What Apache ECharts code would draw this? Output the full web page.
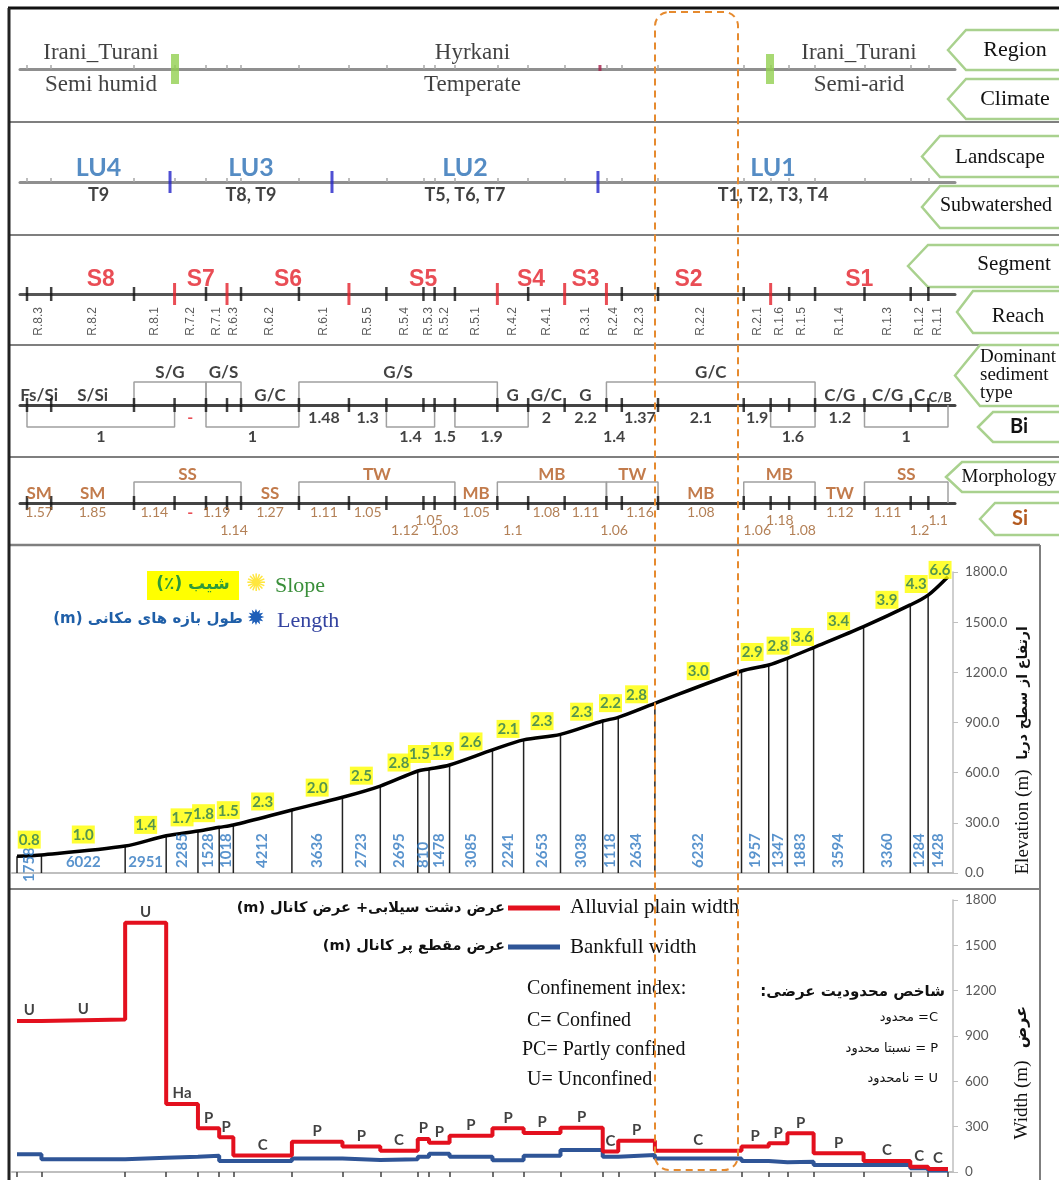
<!DOCTYPE html>
<html><head><meta charset="utf-8">
<script src="https://cdn.jsdelivr.net/npm/echarts@6/dist/echarts.min.js"></script>
<style>html,body{margin:0;padding:0;background:#fff}#c{width:1059px;height:1180px}</style>
</head><body><div id="c"></div>
<script>
// ---------------- DATA ----------------
const reachNames = ['R.8.3','R.8.2','R.8.1','R.7.2','R.7.1','R.6.3','R.6.2','R.6.1','R.5.5','R.5.4','R.5.3','R.5.2','R.5.1','R.4.2','R.4.1','R.3.1','R.2.4','R.2.3','R.2.2','R.2.1','R.1.6','R.1.5','R.1.4','R.1.3','R.1.2','R.1.1'];
const reachLengths = [1758,6022,2951,2285,1528,1018,4212,3636,2723,2695,810,1478,3085,2241,2653,3038,1118,2634,6232,1957,1347,1883,3594,3360,1284,1428];
const slopes = [0.8,1.0,1.4,1.7,1.8,1.5,2.3,2.0,2.5,2.8,1.5,1.9,2.6,2.1,2.3,2.3,2.2,2.8,3.0,2.9,2.8,3.6,3.4,3.9,4.3,6.6];
const elevations = [100,108,161,223,251,273,287,377,453,520,610,622,646,736,796,829,909,931,1015,1208,1244,1284,1348,1473,1603,1662,1772];
const alluvialWidth = [1000,1010,1650,450,290,230,110,200,168,141,218,194,240,289,258,293,135,207,140,168,190,256,124,73,35,20];
const bankfullWidth = [117,84,95,101,108,73,73,90,80,84,101,121,101,77,108,146,101,112,90,73,64,68,46,46,24,10];
const confinement = ['U','U','U','Ha','P','P','C','P','P','C','P','P','P','P','P','P','C','P','C','P','P','P','P','C','C','C'];

const regionNames = ['Irani_Turani','Hyrkani','Irani_Turani'];
const climateNames = ['Semi humid','Temperate','Semi-arid'];
const regionBounds = [0,10760,54025,66970];
const climateMarks = [41663];

const landscapeUnits = ['LU4','LU3','LU2','LU1'];
const subwatersheds = ['T9','T8, T9','T5, T6, T7','T1, T2, T3, T4'];
const landscapeBounds = [0,10400,22177,41518,66970];

const sedimentTypes = ['Fs/Si','S/Si','S/G','G/S','G/C','G/S','G','G/C','G','G/C','C/G','C/G','C','C/B'];
const sedimentSpans = [[0,0],[1,1],[2,3],[4,5],[6,6],[7,12],[13,13],[14,14],[15,15],[16,21],[22,22],[23,23],[24,24],[25,25]];
const biValues = ['1','-','1','1.48','1.3','1.4','1.5','1.9','2','2.2','1.4','1.37','2.1','1.9','1.6','1.2','1'];
const biSpans = [[0,2],[3,3],[4,6],[7,7],[8,8],[9,10],[11,11],[12,13],[14,14],[15,15],[16,16],[17,17],[18,18],[19,19],[20,21],[22,22],[23,25]];
const morphTypes = ['SM','SM','SS','SS','TW','MB','MB','TW','MB','MB','TW','SS'];
const morphSpans = [[0,0],[1,1],[2,5],[6,6],[7,11],[12,12],[13,15],[16,17],[18,18],[19,21],[22,22],[23,25]];
const siValues = ['1.57','1.85','1.14','-','1.19','1.14','1.27','1.11','1.05','1.12','1.05','1.03','1.05','1.1','1.08','1.11','1.06','1.16','1.08','1.06','1.18','1.08','1.12','1.11','1.2','1.1'];

// ---------------- LAYOUT (not data) ----------------
const biLowSingles = [6,10];
const siTier = [0,0,0,0,0,2,0,0,0,2,1,2,0,2,0,0,2,0,0,2,1,2,0,0,2,1];
const lengthHorizontal = [1,2];
const lengthDrop = {0:14};
const smallSediment = [13];
const slopeNudge = {4:-5,5:2,10:-4,11:3,19:-3,21:2,24:-3,25:2};

// ---------------- BUILD ----------------
const cum=[0]; reachLengths.forEach(l=>cum.push(cum[cum.length-1]+l));
const mid = i => (cum[i]+cum[i+1])/2;
const spanMid = s => (cum[s[0]]+cum[s[1]+1])/2;

const SERIF='"Liberation Serif", "Times New Roman", serif';
const SANS='Lato, "Noto Sans", sans-serif';
const ARIAL='"Liberation Sans", Arial, sans-serif';
const FA='"DejaVu Sans", sans-serif';
const RED='#e3202a';

const TOP_MIN=-509, TOP_MAX=67479, BOT_MIN=-360, BOT_MAX=67330;
const rowY=[69,182,294,405,503];
const rowLine=[{c:'#8f8f8f',w:3},{c:'#8f8f8f',w:3},{c:'#555',w:3},{c:'#444',w:3},{c:'#444',w:3}];

const grid=[],xAxis=[],yAxis=[],series=[];
rowY.forEach((y,i)=>{
  grid.push({left:20,width:935,top:y-50,height:100});
  xAxis.push({type:'value',gridIndex:i,min:TOP_MIN,max:TOP_MAX,
    axisLine:{onZero:true,lineStyle:{color:rowLine[i].c,width:rowLine[i].w}},
    axisTick: i<2?{show:true,inside:true,length:4,lineStyle:{color:'#a8a8a8',width:1.5},customValues:cum.slice(0,26)}:{show:false},
    axisLabel:{show:false},splitLine:{show:false}});
  yAxis.push({type:'value',gridIndex:i,min:-50,max:50,show:false});
});
grid.push({left:12,width:941,top:572,height:301});
xAxis.push({type:'value',gridIndex:5,min:BOT_MIN,max:BOT_MAX,axisLine:{show:true,onZero:false,lineStyle:{color:'#bfbfbf',width:2}},axisTick:{show:false},axisLabel:{show:false},splitLine:{show:false}});
yAxis.push({type:'value',gridIndex:5,position:'right',min:0,max:1800,interval:300,
  axisLine:{show:true,onZero:false,lineStyle:{color:'#bfbfbf',width:1.5}},axisTick:{show:true,length:5,lineStyle:{color:'#bfbfbf'}},
  axisLabel:{color:'#595959',fontSize:13.5,fontFamily:SANS,margin:12,formatter:v=>Number(v).toFixed(1)},splitLine:{show:false}});
grid.push({left:12,width:941,top:900,height:272});
xAxis.push({type:'value',gridIndex:6,min:BOT_MIN,max:BOT_MAX,axisLine:{show:true,onZero:false,lineStyle:{color:'#bfbfbf',width:2}},
  axisTick:{show:true,length:5,lineStyle:{color:'#404040',width:1.5},customValues:cum},axisLabel:{show:false},splitLine:{show:false}});
yAxis.push({type:'value',gridIndex:6,position:'right',min:0,max:1800,interval:300,
  axisLine:{show:true,onZero:false,lineStyle:{color:'#bfbfbf',width:1.5}},axisTick:{show:true,length:5,lineStyle:{color:'#bfbfbf'}},
  axisLabel:{color:'#595959',fontSize:13.5,fontFamily:SANS,margin:12,formatter:v=>String(Math.round(v))},splitLine:{show:false}});

function marks(gi,pts,size,color,z){series.push({type:'scatter',xAxisIndex:gi,yAxisIndex:gi,symbol:'rect',symbolSize:size,itemStyle:{color},data:pts,silent:true,z:z||4});}
function texts(gi,pts,txt,label,z){series.push({type:'scatter',xAxisIndex:gi,yAxisIndex:gi,symbolSize:0,silent:true,z:z||6,data:pts,
  label:Object.assign({show:true,formatter:p=>txt[p.dataIndex]==='-'?'{r|-}':txt[p.dataIndex],rich:{r:{color:RED,fontWeight:'bold',fontSize:16}}},label)});}
function brackets(gi,spans,h,color){spans.forEach(s=>{if(s[0]===s[1])return;const x0=cum[s[0]],x1=cum[s[1]+1];
  series.push({type:'line',xAxisIndex:gi,yAxisIndex:gi,symbol:'none',silent:true,data:[[x0,0],[x0,h],[x1,h],[x1,0]],lineStyle:{color,width:1.5},z:3});});}

marks(0,regionBounds.slice(1,-1).map(x=>[x,0]),[8,30],'#92d050',5);
marks(0,climateMarks.map(x=>[x,1]),[3,6],'#a3214a',5);
const regionCenters=regionNames.map((n,i)=>[(regionBounds[i]+regionBounds[i+1])/2,0]);
texts(0,regionCenters,regionNames,{position:'top',distance:5,fontFamily:SERIF,fontSize:23,color:'#111'});
texts(0,regionCenters,climateNames,{position:'bottom',distance:4,fontFamily:SERIF,fontSize:23,color:'#111'});

marks(1,landscapeBounds.slice(1,-1).map(x=>[x,0]),[3,22],'#2323c8',5);
const luCenters=landscapeUnits.map((n,i)=>[(landscapeBounds[i]+landscapeBounds[i+1])/2,0]);
texts(1,luCenters,landscapeUnits,{position:'top',distance:2,fontFamily:SANS,fontWeight:'bold',fontSize:25,color:'#2a6fb5'});
texts(1,luCenters,subwatersheds,{position:'bottom',distance:4,fontFamily:SANS,fontWeight:'bold',fontSize:18,color:'#111'});

const segOf=i=>'S'+reachNames[i].split('.')[1];
const segBound=[];for(let i=1;i<26;i++){if(segOf(i)!==segOf(i-1))segBound.push(i);}
marks(2,cum.slice(0,26).map((c,i)=>segBound.includes(i)?null:[c,0]).filter(Boolean),[2.5,14],'#111',4);
marks(2,segBound.map(i=>[cum[i],0]),[3,22],RED,5);
const segNames=[],segPts=[];
reachNames.forEach((r,i)=>{const s=segOf(i);if(!segNames.includes(s)){segNames.push(s);segPts.push([i,i]);}else segPts[segPts.length-1][1]=i;});
texts(2,segPts.map(s=>[spanMid(s),0]),segNames,{position:'top',distance:3,fontFamily:ARIAL,fontWeight:'bold',fontSize:23,color:RED});
texts(2,reachNames.map((r,i)=>[mid(i),0]),reachNames,{position:'bottom',distance:13,rotate:90,align:'right',verticalAlign:'middle',fontFamily:ARIAL,fontSize:12,color:'#333'});

marks(3,cum.slice(0,26).map(c=>[c,0]),[2.5,14],'#111',4);
brackets(3,sedimentSpans,23,'#a0a0a0');
brackets(3,biSpans,-22,'#a0a0a0');
const sedSingle=[],sedSingleT=[],sedGroup=[],sedGroupT=[];
sedimentSpans.forEach((s,i)=>{if(s[0]===s[1]){sedSingle.push(smallSediment.includes(i)?{value:[spanMid(s),0],label:{fontSize:13,offset:[2,0]}}:[spanMid(s),0]);sedSingleT.push(sedimentTypes[i]);}else{sedGroup.push([spanMid(s),23]);sedGroupT.push(sedimentTypes[i]);}});
const SEDL={fontFamily:SANS,fontWeight:'bold',fontSize:17,color:'#111'};
texts(3,sedSingle,sedSingleT,Object.assign({position:'top',distance:1},SEDL));
texts(3,sedGroup,sedGroupT,Object.assign({position:'top',distance:1},SEDL));
const biHi=[],biHiT=[],biLo=[],biLoT=[],biGr=[],biGrT=[];
biSpans.forEach((s,i)=>{if(s[0]!==s[1]){biGr.push([spanMid(s),-22]);biGrT.push(biValues[i]);}
  else if(biLowSingles.includes(i)){biLo.push([spanMid(s),0]);biLoT.push(biValues[i]);}
  else{biHi.push([spanMid(s),0]);biHiT.push(biValues[i]);}});
const BIL={fontFamily:SANS,fontWeight:'bold',fontSize:16,color:'#111'};
texts(3,biHi,biHiT,Object.assign({position:'bottom',distance:5},BIL));
texts(3,biLo,biLoT,Object.assign({position:'bottom',distance:24},BIL));
texts(3,biGr,biGrT,Object.assign({position:'bottom',distance:2},BIL));

marks(4,cum.slice(0,26).map(c=>[c,0]),[2.5,14],'#111',4);
brackets(4,morphSpans,21,'#a0a0a0');
const mSingle=[],mSingleT=[],mGroup=[],mGroupT=[];
morphSpans.forEach((s,i)=>{if(s[0]===s[1]){mSingle.push([spanMid(s),0]);mSingleT.push(morphTypes[i]);}else{mGroup.push([spanMid(s),21]);mGroupT.push(morphTypes[i]);}});
const ML={fontFamily:SANS,fontWeight:'bold',fontSize:17,color:'#b35a1f'};
texts(4,mSingle,mSingleT,Object.assign({position:'top',distance:1},ML));
texts(4,mGroup,mGroupT,Object.assign({position:'top',distance:-1},ML));
[0,1,2].forEach(t=>{
  const idx=siValues.map((v,i)=>i).filter(i=>siTier[i]===t);
  texts(4,idx.map(i=>[mid(i),0]),idx.map(i=>siValues[i]),{position:'bottom',distance:[2,10,20][t],fontFamily:SANS,fontSize:14,color:'#a0602c'});
});

series.push({type:'bar',xAxisIndex:5,yAxisIndex:5,barWidth:1.5,silent:true,itemStyle:{color:'#222'},data:cum.slice(0,26).map((c,i)=>[c,elevations[i]]),z:2});
series.push({type:'line',xAxisIndex:5,yAxisIndex:5,symbol:'none',smooth:0.3,silent:true,lineStyle:{color:'#000',width:3.5},data:cum.map((c,i)=>[c,elevations[i]]),z:5});
texts(5,slopes.map((s,i)=>{const v=[mid(i),(elevations[i]+elevations[i+1])/2];return slopeNudge[i]!==undefined?{value:v,label:{offset:[slopeNudge[i],0]}}:v;}),slopes.map(s=>s.toFixed(1)),
  {position:'top',distance:7,fontFamily:SANS,fontWeight:'bold',fontSize:15,color:'#2a7a55',backgroundColor:'#ffff00',padding:[2,1,1,1]},8);
const lenRot=reachLengths.map((l,i)=>i).filter(i=>!lengthHorizontal.includes(i));
texts(5,lenRot.map(i=>lengthDrop[i]?{value:[mid(i),0],label:{offset:[-lengthDrop[i],0]}}:[mid(i),0]),lenRot.map(i=>String(reachLengths[i])),{position:'top',distance:5,rotate:90,align:'left',verticalAlign:'middle',fontFamily:SANS,fontWeight:'bold',fontSize:15,color:'#2f78c0'},7);
texts(5,lengthHorizontal.map(i=>[mid(i),0]),lengthHorizontal.map(i=>String(reachLengths[i])),{position:'top',distance:3,fontFamily:SANS,fontWeight:'bold',fontSize:15,color:'#2f78c0'});

const stepData=arr=>cum.slice(0,26).map((c,i)=>[c,arr[i]]).concat([[cum[26],arr[25]]]);
series.push({type:'line',xAxisIndex:6,yAxisIndex:6,step:'end',symbol:'none',silent:true,data:stepData(bankfullWidth),lineStyle:{color:'#2f5597',width:4},z:4});
series.push({type:'line',xAxisIndex:6,yAxisIndex:6,step:'end',symbol:'none',silent:true,data:stepData(alluvialWidth),lineStyle:{color:'#e3101e',width:4},z:5});
texts(6,alluvialWidth.map((w,i)=>[mid(i),w]),confinement,{position:'top',distance:3,fontFamily:SANS,fontWeight:'bold',fontSize:15,color:'#111'});

const G=[];
function gLine(x1,y1,x2,y2,stroke,w){G.push({type:'line',silent:true,shape:{x1,y1,x2,y2},style:{stroke,lineWidth:w}});}
function gText(x,y,text,font,fill,align,rot){G.push({type:'text',silent:true,x,y,rotation:rot||0,style:{text,font,fill,textAlign:align||'left',align:align||'left',textVerticalAlign:'middle',verticalAlign:'middle'}});}
[122,235,345,457].forEach(y=>gLine(8,y,1059,y,'#7f7f7f',2));
gLine(8,545,1040,545,'#7f7f7f',2.5);
gLine(8,889,1040,889,'#7f7f7f',2);
gLine(1040,545,1040,1180,'#7f7f7f',2);
gLine(8,8,1059,8,'#111',3);
gLine(9,8,9,1180,'#222',3);
function box(tip,top,bot,body){G.push({type:'polygon',silent:true,shape:{points:[[tip,(top+bot)/2],[body,top],[1070,top],[1070,bot],[body,bot]]},style:{fill:'#fff',stroke:'#a9d18e',lineWidth:2.5}});}
box(948,30,70,966); gText(1015,50,'Region','22px '+SERIF,'#111','center');
box(948,79,119,966); gText(1015,99,'Climate','22px '+SERIF,'#111','center');
box(922,136,177,940); gText(1000,157,'Landscape','21px '+SERIF,'#111','center');
box(922,186,228,940); gText(996,206,'Subwatershed','20px '+SERIF,'#111','center');
box(908,245,287,928); gText(1014,264,'Segment','21px '+SERIF,'#111','center');
box(957,291,333,973); gText(1018,316,'Reach','21px '+SERIF,'#111','center');
box(955,345,406,980); gText(980,357,'Dominant','19px '+SERIF,'#111'); gText(980,375,'sediment','19px '+SERIF,'#111'); gText(980,393,'type','19px '+SERIF,'#111');
box(978,412,442,993); gText(1019,427,'Bi','bold 20px '+SANS,'#111','center');
box(946,462,492,962); gText(1009,477,'Morphology','19px '+SERIF,'#111','center');
box(980,503,535,995); gText(1020,519,'Si','bold 20px '+SANS,'#b35a1f','center');
G.push({type:'rect',silent:true,shape:{x:147,y:571,width:92,height:29},style:{fill:'#ffff00'}});
gText(193,585,'(٪) شیب','bold 17px '+FA,'#2e9a3a','center');
gText(256,585,'✺','24px "DejaVu Sans"','#ffe63d','center');
gText(275,586,'Slope','22px '+SERIF,'#3a8f3a');
gText(243,619,'(m) طول بازه های مکانی','bold 15px '+FA,'#1f5fa8','right');
gText(256,619,'✹','22px "DejaVu Sans"','#1f5fb8','center');
gText(277,621,'Length','22px '+SERIF,'#3343a0');
gText(1023,822,'Elevation (m)','19px '+SERIF,'#111','center',Math.PI/2);
gText(1023,693,'ارتفاع از سطح دریا','bold 14px '+FA,'#111','center',Math.PI/2);
gText(1022,1100,'Width (m)','19px '+SERIF,'#111','center',Math.PI/2);
gText(1022,1027,'عرض','bold 16px '+FA,'#111','center',Math.PI/2);
gLine(508,908,560,908,'#e3101e',5);
gLine(508,947,560,947,'#2f5597',5);
gText(505,908,'(m) عرض دشت سیلابی+ عرض کانال','bold 14.5px '+FA,'#111','right');
gText(505,946,'(m) عرض مقطع پر کانال','bold 14.5px '+FA,'#111','right');
gText(570,907,'Alluvial plain width','21px '+SERIF,'#111');
gText(570,947,'Bankfull width','21px '+SERIF,'#111');
gText(527,989,'Confinement index:','20px '+SERIF,'#111');
gText(527,1021,'C= Confined','20px '+SERIF,'#111');
gText(522,1050,'PC= Partly confined','20px '+SERIF,'#111');
gText(527,1080,'U= Unconfined','20px '+SERIF,'#111');
gText(945,992,':شاخص محدودیت عرضی','bold 15px '+FA,'#111','right');
gText(938,1018,'محدود =C','13px '+FA,'#111','right');
gText(938,1049,'نسبتا محدود = P','13px '+FA,'#111','right');
gText(938,1079,'نامحدود = U','13px '+FA,'#111','right');
G.push({type:'rect',silent:true,z:100,shape:{x:655,y:12,width:83,height:1158,r:14},style:{fill:'none',stroke:'#e68a2e',lineWidth:2,lineDash:[7,5]}});

const chart=echarts.init(document.getElementById('c'));
chart.setOption({animation:false,backgroundColor:'#fff',grid,xAxis,yAxis,series,graphic:{elements:G}});
</script></body></html>
